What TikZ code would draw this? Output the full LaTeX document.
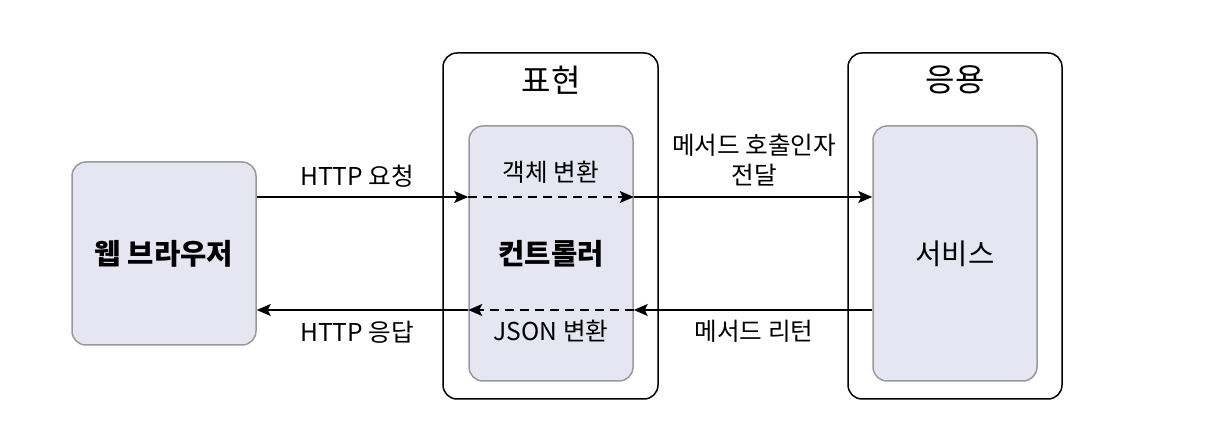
\documentclass[tikz,border=0pt]{standalone}
\usepackage{fontspec}
\setmainfont{Noto Sans CJK KR}
\usepackage{xcolor}
\usepackage{tikz}
\usetikzlibrary{arrows.meta}

\definecolor{boxfill}{RGB}{230,230,242}
\definecolor{boxline}{RGB}{153,153,153}

\tikzset{
  layer/.style={draw=black, line width=.75pt, rounded corners=7pt},
  part/.style={draw=boxline, fill=boxfill, line width=.75pt, rounded corners=7pt},
  flow/.style={line width=.75pt, -{Stealth[length=7pt,width=6pt,inset=1.5pt]}},
  lbl/.style={draw=none, font=\fontsize{12.3}{15}\selectfont},
  title/.style={draw=none, font=\fontsize{16}{18}\selectfont},
  partname/.style={draw=none, font=\fontsize{14.3}{16}\selectfont},
  boldname/.style={draw=none, font=\fontsize{14.3}{16}\selectfont\bfseries}
}

\begin{document}
\begin{tikzpicture}[x=.5pt, y=-.5pt]
             \useasboundingbox (0,0) rectangle (1224,426);

             % outer layers
             \node[layer, minimum width=107.5pt, minimum height=173pt] (pres) at (550.5, 226) {};
             \node[layer, minimum width=107pt, minimum height=173pt] (app) at (955, 226) {};
             \node[title] (presname) at (551, 80) {표현};
             \node[title] (appname) at (955, 80) {응용};

             % parts
             \node[part, minimum width=92pt, minimum height=91.5pt] (browser) at (164, 253.5) {};
             \node[part, minimum width=82pt, minimum height=127.5pt] (ctrl) at (551, 253.5) {};
             \node[part, minimum width=82pt, minimum height=127.5pt] (svc) at (955, 253.5) {};
             \node[boldname] at (browser) {웹 브라우저};
             \node[boldname] at (ctrl) {컨트롤러};
             \node[partname] at (svc) {서비스};

             % request
             \draw[flow] ([yshift=28.25pt]browser.east) -- ([yshift=28.25pt]ctrl.west);
             \draw[flow, dashed, dash pattern=on 4.5pt off 3pt] ([yshift=28.25pt]ctrl.west) -- ([yshift=28.25pt]ctrl.east);
             \draw[flow] ([yshift=28.25pt]ctrl.east) -- ([yshift=28.25pt]svc.west);

             % response
             \draw[flow] ([yshift=-28.25pt]svc.west) -- ([yshift=-28.25pt]ctrl.east);
             \draw[flow, dashed, dash pattern=on 4.5pt off 3pt] ([yshift=-28.25pt]ctrl.east) -- ([yshift=-28.25pt]ctrl.west);
             \draw[flow] ([yshift=-28.25pt]ctrl.west) -- ([yshift=-28.25pt]browser.east);

             \node[lbl] (req) at (357, 176) {HTTP 요청};
             \node[lbl] (res) at (357, 332) {HTTP 응답};
             \node[lbl] (toobj) at (551, 172) {객체 변환};
             \node[lbl] (tojson) at (551, 331) {JSON 변환};
             \node[lbl, align=center] (call) at (754, 160) {메서드 호출인자\\전달};
             \node[lbl] (ret) at (754, 331) {메서드 리턴};
             \end{tikzpicture}
\end{document}
